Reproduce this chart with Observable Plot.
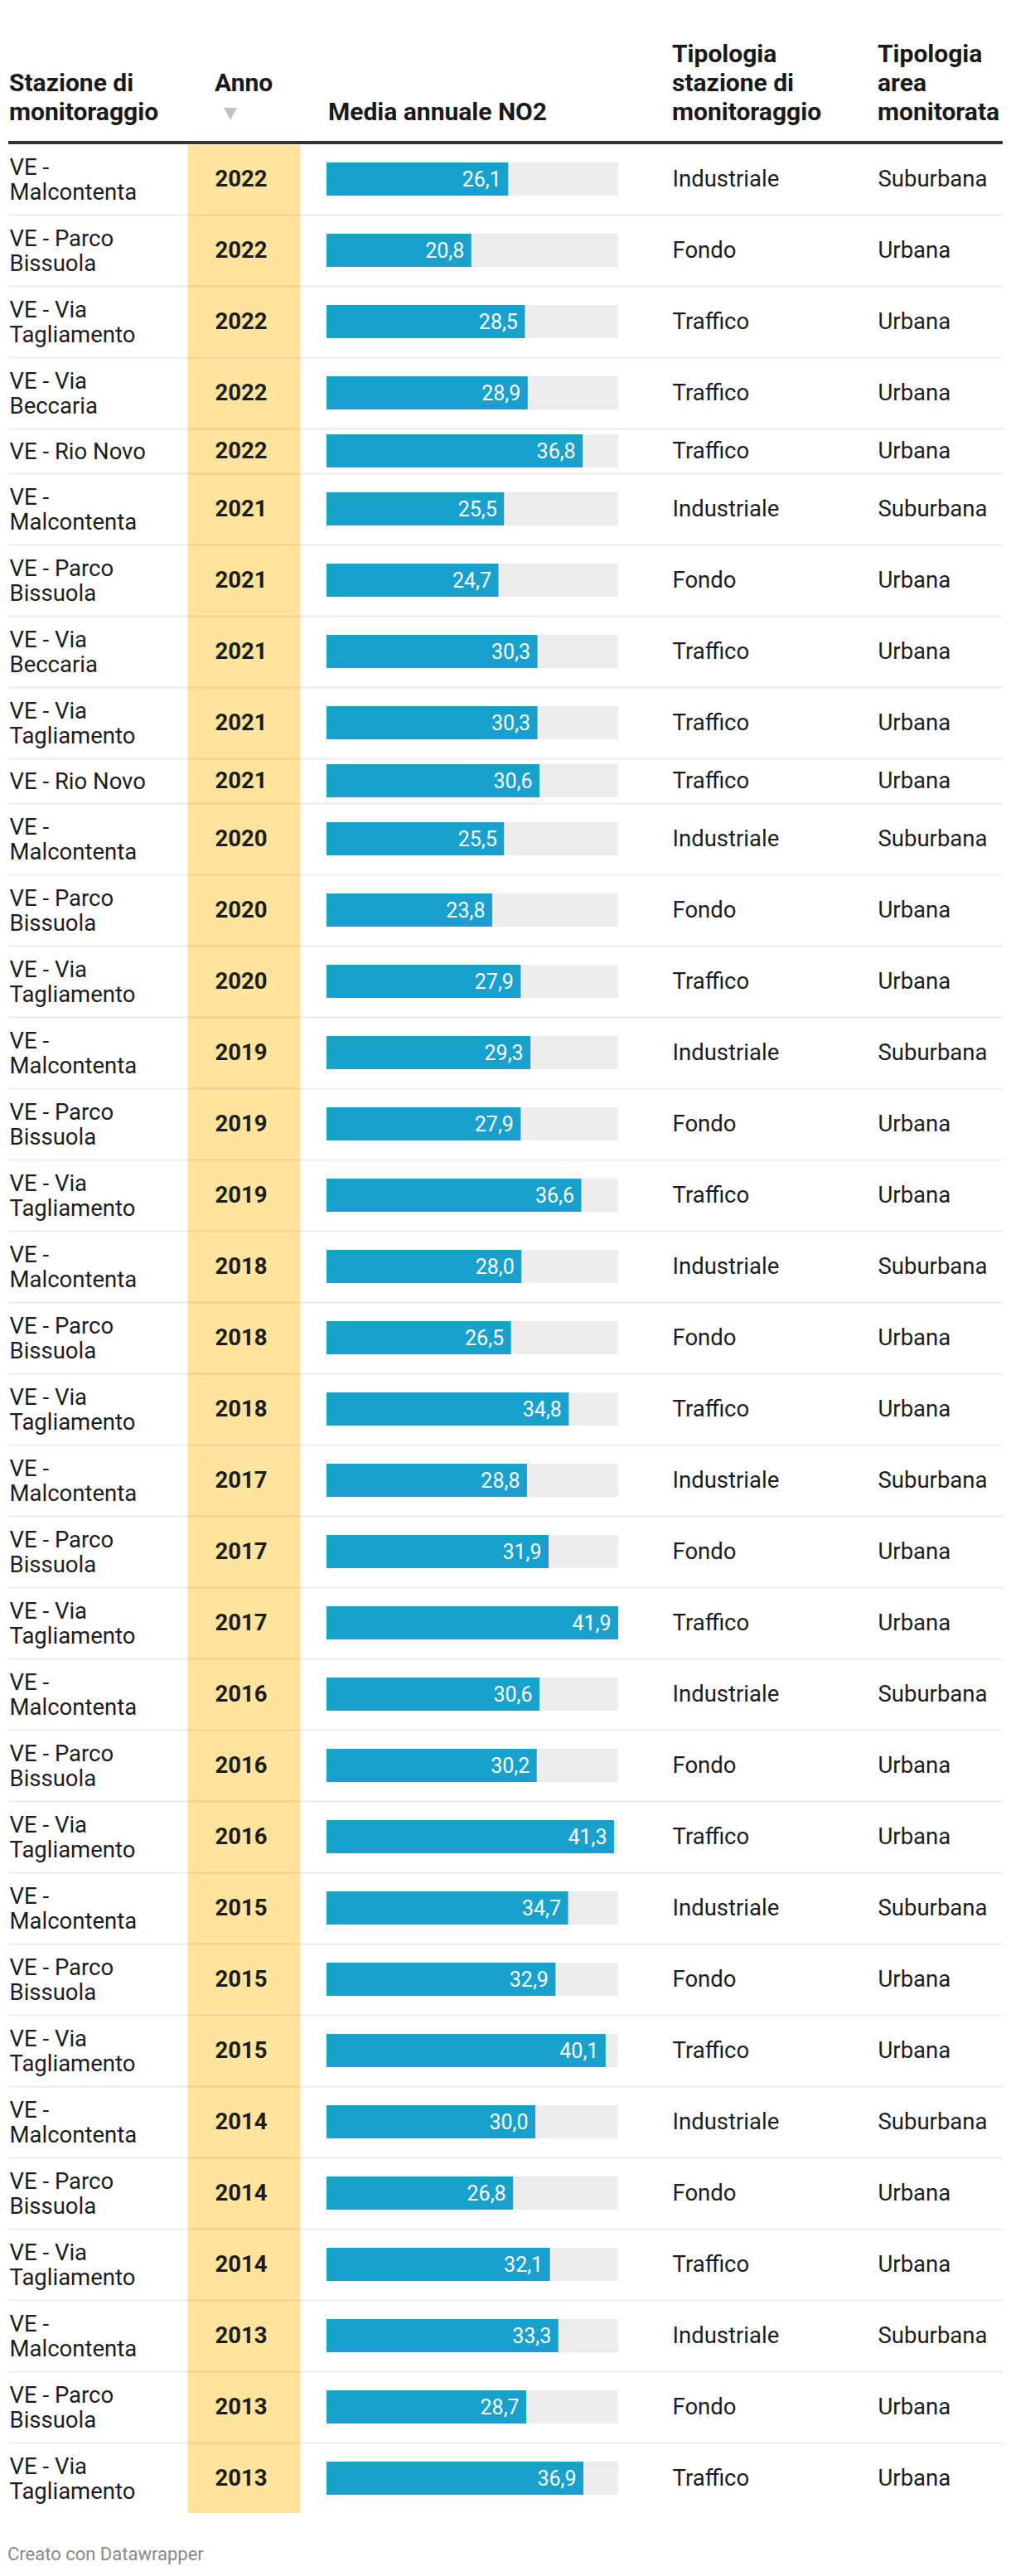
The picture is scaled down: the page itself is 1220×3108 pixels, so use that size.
<!DOCTYPE html>
<html>
<head>
<meta charset="utf-8">
<script src="https://cdn.jsdelivr.net/npm/d3@7"></script>
<script src="https://cdn.jsdelivr.net/npm/@observablehq/plot@0.6"></script>
<style>
  html, body { margin: 0; padding: 0; background: #fff; }
  body { width: 1220px; font-family: Roboto, "Noto Sans", sans-serif; color: #1d1d1d; }
  #head { position: relative; height: 170px; border-bottom: 4px solid #333; margin: 0 10px; width: 1200px; }
  .h { position: absolute; bottom: 18px; font-weight: 700; font-size: 30px; line-height: 35px; color: #1a1a1a; white-space: nowrap; }
  #tri { position: absolute; left: 260px; top: 130px; width: 0; height: 0;
         border-left: 8px solid transparent; border-right: 8px solid transparent; border-top: 15px solid #c2c2c2; }
  #chart svg { display: block; }
  #foot { margin-top: 38px; padding-left: 9px; font-size: 22px; line-height: 24px; color: #8a8a8a; }
</style>
</head>
<body>
<div id="head"></div>
<div id="chart"></div>
<div id="foot">Creato con Datawrapper</div>
<script>
// ---- data ----
const headers = ["Stazione di\nmonitoraggio", "Anno", "Media annuale NO2", "Tipologia\nstazione di\nmonitoraggio", "Tipologia\narea\nmonitorata"];
const stations = [
  "VE - Malcontenta", "VE - Parco Bissuola", "VE - Via Tagliamento", "VE - Via Beccaria", "VE - Rio Novo",
  "VE - Malcontenta", "VE - Parco Bissuola", "VE - Via Beccaria", "VE - Via Tagliamento", "VE - Rio Novo",
  "VE - Malcontenta", "VE - Parco Bissuola", "VE - Via Tagliamento",
  "VE - Malcontenta", "VE - Parco Bissuola", "VE - Via Tagliamento",
  "VE - Malcontenta", "VE - Parco Bissuola", "VE - Via Tagliamento",
  "VE - Malcontenta", "VE - Parco Bissuola", "VE - Via Tagliamento",
  "VE - Malcontenta", "VE - Parco Bissuola", "VE - Via Tagliamento",
  "VE - Malcontenta", "VE - Parco Bissuola", "VE - Via Tagliamento",
  "VE - Malcontenta", "VE - Parco Bissuola", "VE - Via Tagliamento",
  "VE - Malcontenta", "VE - Parco Bissuola", "VE - Via Tagliamento"
];
const years = [
  2022, 2022, 2022, 2022, 2022,
  2021, 2021, 2021, 2021, 2021,
  2020, 2020, 2020,
  2019, 2019, 2019,
  2018, 2018, 2018,
  2017, 2017, 2017,
  2016, 2016, 2016,
  2015, 2015, 2015,
  2014, 2014, 2014,
  2013, 2013, 2013
];
const values = [
  26.1, 20.8, 28.5, 28.9, 36.8,
  25.5, 24.7, 30.3, 30.3, 30.6,
  25.5, 23.8, 27.9,
  29.3, 27.9, 36.6,
  28.0, 26.5, 34.8,
  28.8, 31.9, 41.9,
  30.6, 30.2, 41.3,
  34.7, 32.9, 40.1,
  30.0, 26.8, 32.1,
  33.3, 28.7, 36.9
];
const stationTypes = [
  "Industriale", "Fondo", "Traffico", "Traffico", "Traffico",
  "Industriale", "Fondo", "Traffico", "Traffico", "Traffico",
  "Industriale", "Fondo", "Traffico",
  "Industriale", "Fondo", "Traffico",
  "Industriale", "Fondo", "Traffico",
  "Industriale", "Fondo", "Traffico",
  "Industriale", "Fondo", "Traffico",
  "Industriale", "Fondo", "Traffico",
  "Industriale", "Fondo", "Traffico",
  "Industriale", "Fondo", "Traffico"
];
const areaTypes = [
  "Suburbana", "Urbana", "Urbana", "Urbana", "Urbana",
  "Suburbana", "Urbana", "Urbana", "Urbana", "Urbana",
  "Suburbana", "Urbana", "Urbana",
  "Suburbana", "Urbana", "Urbana",
  "Suburbana", "Urbana", "Urbana",
  "Suburbana", "Urbana", "Urbana",
  "Suburbana", "Urbana", "Urbana",
  "Suburbana", "Urbana", "Urbana",
  "Suburbana", "Urbana", "Urbana",
  "Suburbana", "Urbana", "Urbana"
];

// ---- layout ----
const colX = [11, 259, 396, 811, 1059];
const BODY_FONT = 27.5, LINE_H = 29.5, WRAP_W = 195;
const ctx = document.createElement("canvas").getContext("2d");
ctx.font = `${BODY_FONT}px Roboto`;
function wrap(s) {
  const words = s.split(" "), lines = [];
  let cur = "";
  for (const w of words) {
    const t = cur ? cur + " " + w : w;
    if (cur && ctx.measureText(t).width > WRAP_W) { lines.push(cur); cur = w; }
    else cur = t;
  }
  lines.push(cur);
  return lines;
}
const fmt = v => d3.format(".1f")(v).replace(".", ",");

let rowTop = 0;
const rows = stations.map((s, i) => {
  const lines = wrap(s);
  const h = 22 + 32 * lines.length;
  const r = {station: lines.join("\n"), year: years[i], value: values[i],
             stype: stationTypes[i], area: areaTypes[i], top: rowTop, h, mid: rowTop + (h - 2) / 2};
  rowTop += h;
  return r;
});
const bodyH = rowTop - 2;
const maxV = d3.max(values);

// ---- header ----
const head = document.getElementById("head");
headers.forEach((t, i) => {
  const d = document.createElement("div");
  d.className = "h";
  d.style.left = (colX[i] - 10) + "px";
  d.innerText = t;
  if (i === 1) d.style.bottom = "53px";
  head.appendChild(d);
});
const tri = document.createElement("div");
tri.id = "tri";
head.appendChild(tri);

// ---- chart ----
const chart = Plot.plot({
  width: 1220,
  height: bodyH,
  margin: 0,
  x: {domain: [0, maxV], range: [394, 746], axis: null},
  y: {type: "identity", axis: null},
  style: {fontFamily: "Roboto, 'Noto Sans', sans-serif", fontSize: BODY_FONT + "px", color: "#1d1d1d", background: "#fff"},
  marks: [
    Plot.frame({fill: "#fee49d", stroke: "none", insetLeft: 226, insetRight: 1220 - 362}),
    Plot.ruleY(rows.slice(0, -1), {y: d => d.top + d.h - 1, stroke: "#000", strokeOpacity: 0.075, strokeWidth: 2, insetLeft: 10, insetRight: 10}),
    Plot.rect(rows, {x1: 0, x2: maxV, y1: d => d.mid - 20, y2: d => d.mid + 20, fill: "#ededed"}),
    Plot.rect(rows, {x1: 0, x2: "value", y1: d => d.mid - 20, y2: d => d.mid + 20, fill: "#18a1cd"}),
    Plot.text(rows, {x: "value", y: "mid", text: d => fmt(d.value), textAnchor: "end", dx: -9, fill: "white", fontSize: 25}),
    Plot.text(rows, {y: "mid", text: "station", frameAnchor: "left", textAnchor: "start", dx: colX[0], fill: "#1d1d1d", lineHeight: LINE_H / BODY_FONT, fontSize: BODY_FONT}),
    Plot.text(rows, {y: "mid", text: d => String(d.year), frameAnchor: "left", textAnchor: "start", dx: colX[1], fill: "#1d1d1d", fontWeight: "bold", fontSize: BODY_FONT}),
    Plot.text(rows, {y: "mid", text: "stype", frameAnchor: "left", textAnchor: "start", dx: colX[3], fill: "#1d1d1d", fontSize: BODY_FONT}),
    Plot.text(rows, {y: "mid", text: "area", frameAnchor: "left", textAnchor: "start", dx: colX[4], fill: "#1d1d1d", fontSize: BODY_FONT})
  ]
});
document.getElementById("chart").appendChild(chart);
</script>
</body>
</html>
